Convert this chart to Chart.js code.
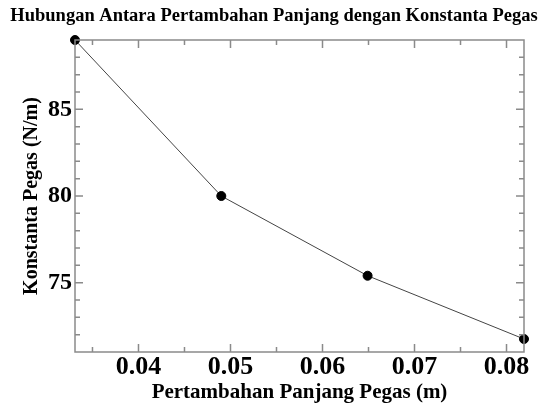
<!DOCTYPE html>
<html>
<head>
<meta charset="utf-8">
<script src="https://cdn.jsdelivr.net/npm/chart.js@4.4.1/dist/chart.umd.min.js"></script>
<style>
  html, body { margin: 0; padding: 0; background: #fff; }
  #wrap { width: 548px; height: 405px; }
</style>
</head>
<body>
<div id="wrap"><canvas id="chart"></canvas></div>
<script>
// data
const pertambahan = [0.0331, 0.049, 0.0649, 0.0819];
const konstanta = [89.0, 80.0, 75.4, 71.75];
const xTicks = [0.04, 0.05, 0.06, 0.07, 0.08];
const yTicks = [75, 80, 85];
const xMinor = [0.035, 0.045, 0.055, 0.065, 0.075];
const yMinor = [72, 73, 74, 76, 77, 78, 79, 81, 82, 83, 84, 86, 87, 88];

const serif = '"Liberation Serif", "Times New Roman", serif';
const axisGray = '#8a8a8a';

// box round the plot with ticks pointing inward on all four sides
const frameTicks = {
    id: 'frameTicks',
    afterDraw(chart) {
        const ctx = chart.ctx;
        const a = chart.chartArea;
        const xs = chart.scales.x, ys = chart.scales.y;
        ctx.save();
        ctx.strokeStyle = axisGray;
        ctx.lineWidth = 1.5;
        ctx.strokeRect(a.left, a.top, a.right - a.left, a.bottom - a.top);
        ctx.beginPath();
        const tick = (list, len) => {
            list.forEach(v => {
                const px = xs.getPixelForValue(v);
                ctx.moveTo(px, a.bottom); ctx.lineTo(px, a.bottom - len);
                ctx.moveTo(px, a.top); ctx.lineTo(px, a.top + len);
            });
        };
        const ytick = (list, len) => {
            list.forEach(v => {
                const py = ys.getPixelForValue(v);
                ctx.moveTo(a.left, py); ctx.lineTo(a.left + len, py);
                ctx.moveTo(a.right, py); ctx.lineTo(a.right - len, py);
            });
        };
        tick(xTicks, 8); tick(xMinor, 5);
        ytick(yTicks, 8); ytick(yMinor, 5);
        ctx.stroke();
        ctx.restore();
    }
};

new Chart(document.getElementById('chart'), {
    type: 'scatter',
    data: {
        datasets: [{
            data: pertambahan.map((x, i) => ({ x: x, y: konstanta[i] })),
            showLine: true,
            borderColor: '#444',
            borderWidth: 1,
            pointBackgroundColor: '#000',
            pointBorderColor: '#000',
            pointRadius: 4.5,
            clip: false
        }]
    },
    options: {
        responsive: true,
        maintainAspectRatio: false,
        animation: false,
        layout: { padding: 0 },
        plugins: {
            legend: { display: false },
            tooltip: { enabled: false },
            title: {
                display: true,
                text: 'Hubungan Antara Pertambahan Panjang dengan Konstanta Pegas',
                color: '#000',
                font: { family: serif, size: 18.5, weight: 'bold', lineHeight: 1.2 },
                padding: { top: 5, bottom: 12.8 }
            }
        },
        scales: {
            x: {
                type: 'linear',
                min: 0.0331,
                max: 0.0819,
                afterBuildTicks: s => { s.ticks = xTicks.map(v => ({ value: v })); },
                afterFit: s => { s.height = 53; s.paddingRight = 0; },
                grid: { display: false, drawTicks: false },
                border: { display: false },
                ticks: {
                    color: '#000',
                    padding: 0,
                    maxRotation: 0,
                    font: { family: serif, size: 26, weight: 'bold' },
                    callback: v => v.toFixed(2)
                },
                title: {
                    display: true,
                    text: 'Pertambahan Panjang Pegas (m)',
                    color: '#000',
                    padding: 0,
                    font: { family: serif, size: 21, weight: 'bold' }
                }
            },
            y: {
                type: 'linear',
                min: 71,
                max: 89,
                afterBuildTicks: s => { s.ticks = yTicks.map(v => ({ value: v })); },
                afterFit: s => { s.width = 75; },
                grid: { display: false, drawTicks: false },
                border: { display: false },
                ticks: {
                    color: '#000',
                    padding: 3,
                    font: { family: serif, size: 24, weight: 'bold' }
                },
                title: {
                    display: true,
                    text: 'Konstanta Pegas (N/m)',
                    color: '#000',
                    padding: { top: 20, bottom: 0 },
                    font: { family: serif, size: 20, weight: 'bold' }
                }
            },
            // empty right axis that only holds the margin on the right
            yRight: {
                type: 'linear',
                position: 'right',
                min: 71,
                max: 89,
                afterFit: s => { s.width = 24; },
                grid: { display: false, drawTicks: false },
                border: { display: false },
                ticks: { display: false }
            }
        }
    },
    plugins: [frameTicks]
});
</script>
</body>
</html>
